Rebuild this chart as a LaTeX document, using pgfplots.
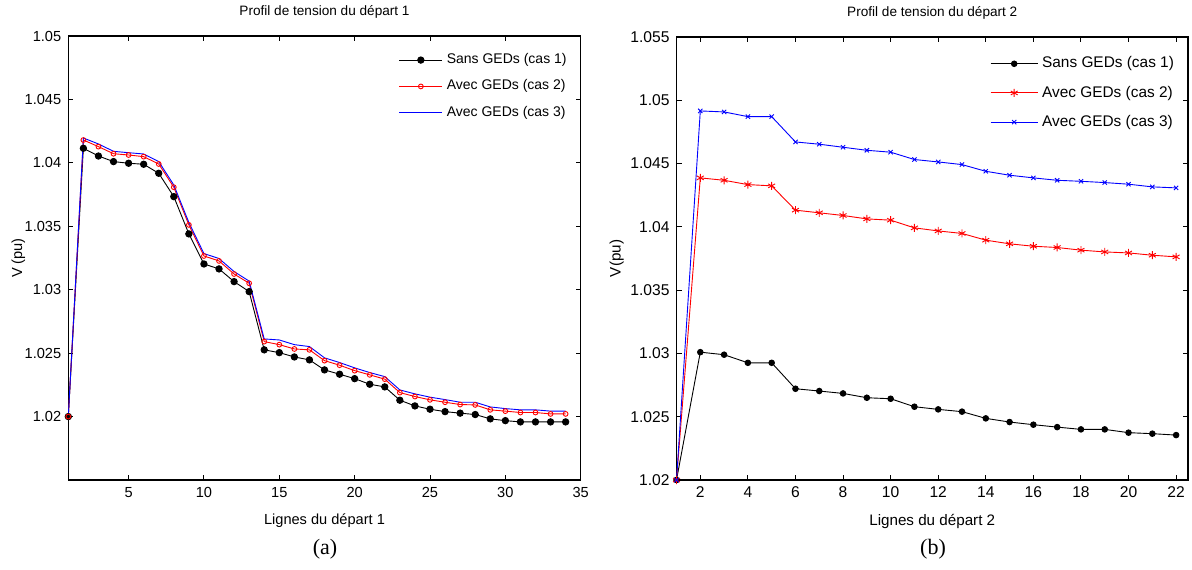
\documentclass[border=0pt]{standalone}
\usepackage{fontspec}
\setmainfont{Liberation Sans}
\newfontfamily\timesfont{Liberation Serif}
\usepackage{pgfplots}
\pgfplotsset{compat=1.18}
\begin{document}
\begin{tikzpicture}
\path[use as bounding box] (0,0) rectangle (596pt,284.5pt);
\pgfplotsset{
  mystyle/.style={
    scale only axis,
    axis line style={line width=0.6pt},
    tick style={line width=0.5pt,black},
    tick align=inside,
    major tick length=2.5pt,
    /pgf/number format/assume math mode=true,
    /pgf/number format/.cd, fixed, precision=3, /pgfplots/.cd,
    yticklabel style={/pgf/number format/fixed,/pgf/number format/precision=3},
    ylabel style={at={(axis description cs:0,0.5)}, anchor=center},
    xlabel style={at={(axis description cs:0.5,0)}, anchor=center, yshift=-20.5pt},
    title style={at={(axis description cs:0.5,1)}, anchor=center, yshift=6pt, font=\fontsize{6.8pt}{8pt}\selectfont},
    legend cell align=left,
    clip=false,
  }
}
% ---------- (a)
\begin{axis}[mystyle,
  at={(34.15pt,44.5pt)}, anchor=south west,
  width=256.2pt, height=222pt,
  xmin=1, xmax=35, ymin=1.015, ymax=1.05,
  xtick={5,10,...,35},
  ytick={1.02,1.025,1.03,1.035,1.04,1.045,1.05},
  ticklabel style={font=\fontsize{7.3pt}{8pt}\selectfont},
  label style={font=\fontsize{7.3pt}{8pt}\selectfont},
  ylabel={V (pu)}, ylabel style={yshift=25pt},
  xlabel={Lignes du départ 1},
  title={Profil de tension du départ 1},
  legend style={at={(axis description cs:0.985,0.975)}, anchor=north east, draw=none, fill=none,
    font=\fontsize{7pt}{8pt}\selectfont, row sep=2.6pt, inner sep=1pt},
  legend image code/.code={\draw[mark repeat=2,mark phase=2] plot coordinates {(0pt,0pt)(10.75pt,0pt)(21.5pt,0pt)};},
]
\addplot[black, line width=0.45pt, mark=*, mark size=1.6pt, mark options={solid,fill=black}] coordinates {
(1,1.02)(2,1.04115)(3,1.04054)(4,1.0401)(5,1.03997)(6,1.03989)(7,1.03918)(8,1.03734)(9,1.0344)(10,1.03203)
(11,1.03164)(12,1.03064)(13,1.02985)(14,1.02526)(15,1.02504)(16,1.0247)(17,1.02447)(18,1.02368)(19,1.02334)(20,1.02299)
(21,1.02255)(22,1.02234)(23,1.02129)(24,1.02084)(25,1.02058)(26,1.02039)(27,1.02027)(28,1.02016)(29,1.01982)(30,1.01968)
(31,1.01958)(32,1.01958)(33,1.01958)(34,1.01958)};
\addlegendentry{Sans GEDs (cas 1)}
\addplot[red, line width=0.45pt, mark=o, mark size=1.2pt, mark options={solid}] coordinates {
(1,1.02)(2,1.0418)(3,1.04128)(4,1.04072)(5,1.04062)(6,1.04049)(7,1.03991)(8,1.03808)(9,1.03511)(10,1.03266)
(11,1.03227)(12,1.03124)(13,1.03051)(14,1.02591)(15,1.02567)(16,1.02533)(17,1.02526)(18,1.02441)(19,1.02405)(20,1.02362)
(21,1.02329)(22,1.02295)(23,1.02189)(24,1.02158)(25,1.02132)(26,1.02113)(27,1.02095)(28,1.02092)(29,1.02053)(30,1.02043)
(31,1.02032)(32,1.02032)(33,1.02021)(34,1.02021)};
\addlegendentry{Avec GEDs (cas 2)}
\addplot[blue, line width=0.45pt] coordinates {
(1,1.02)(2,1.04196)(3,1.04149)(4,1.04091)(5,1.0408)(6,1.0407)(7,1.0401)(8,1.03826)(9,1.0353)(10,1.03285)
(11,1.03246)(12,1.03143)(13,1.03068)(14,1.02612)(15,1.02604)(16,1.02567)(17,1.02552)(18,1.02463)(19,1.02426)(20,1.02384)
(21,1.02347)(22,1.02315)(23,1.0221)(24,1.02179)(25,1.02153)(26,1.02134)(27,1.02113)(28,1.02113)(29,1.02076)(30,1.02063)
(31,1.02053)(32,1.02053)(33,1.02043)(34,1.02043)};
\addlegendentry{Avec GEDs (cas 3)}
\end{axis}
% ---------- (b)
\begin{axis}[mystyle,
  at={(338.25pt,44.5pt)}, anchor=south west,
  width=255.75pt, height=221.5pt,
  xmin=1, xmax=22.5, ymin=1.02, ymax=1.055,
  xtick={2,4,...,22},
  ytick={1.02,1.025,1.03,1.035,1.04,1.045,1.05,1.055},
  ticklabel style={font=\fontsize{7.8pt}{9pt}\selectfont},
  label style={font=\fontsize{7.6pt}{9pt}\selectfont},
  ylabel={V(pu)}, ylabel style={yshift=29.9pt},
  xlabel={Lignes du départ 2},
  title={Profil de tension du départ 2},
  legend style={at={(axis description cs:0.985,0.97)}, anchor=north east, draw=none, fill=none,
    font=\fontsize{7.7pt}{9pt}\selectfont, row sep=3.5pt, inner sep=1pt},
  legend image code/.code={\draw[mark repeat=2,mark phase=2] plot coordinates {(0pt,0pt)(11.75pt,0pt)(23.5pt,0pt)};},
]
\addplot[black, line width=0.45pt, mark=*, mark size=1.4pt, mark options={solid,fill=black}] coordinates {
(1,1.02)(2,1.0301)(3,1.0299)(4,1.02926)(5,1.02926)(6,1.02721)(7,1.02703)(8,1.02684)(9,1.0265)(10,1.02642)
(11,1.02579)(12,1.02558)(13,1.0254)(14,1.02487)(15,1.02458)(16,1.02437)(17,1.02418)(18,1.024)(19,1.024)(20,1.02374)
(21,1.02366)(22,1.02355)};
\addlegendentry{Sans GEDs (cas 1)}
\addplot[red, line width=0.45pt, mark=asterisk, mark size=2pt, mark options={solid}] coordinates {
(1,1.02)(2,1.04387)(3,1.04368)(4,1.04334)(5,1.04324)(6,1.04132)(7,1.04111)(8,1.0409)(9,1.04063)(10,1.04053)
(11,1.03992)(12,1.03968)(13,1.03948)(14,1.03895)(15,1.03866)(16,1.03847)(17,1.03837)(18,1.03816)(19,1.03802)(20,1.03794)
(21,1.03776)(22,1.03763)};
\addlegendentry{Avec GEDs (cas 2)}
\addplot[blue, line width=0.45pt, mark=x, mark size=1.5pt, mark options={solid}] coordinates {
(1,1.02)(2,1.04916)(3,1.04908)(4,1.04871)(5,1.04871)(6,1.04671)(7,1.04653)(8,1.04629)(9,1.04605)(10,1.0459)
(11,1.04532)(12,1.04513)(13,1.04492)(14,1.04439)(15,1.04408)(16,1.04387)(17,1.04368)(18,1.0436)(19,1.0435)(20,1.04337)
(21,1.04316)(22,1.04308)};
\addlegendentry{Avec GEDs (cas 3)}
\end{axis}
\node[font=\timesfont\fontsize{11pt}{13pt}\selectfont] at (162.5pt,10pt) {(a)};
\node[font=\timesfont\fontsize{11pt}{13pt}\selectfont] at (466.5pt,10pt) {(b)};
\end{tikzpicture}
\end{document}
